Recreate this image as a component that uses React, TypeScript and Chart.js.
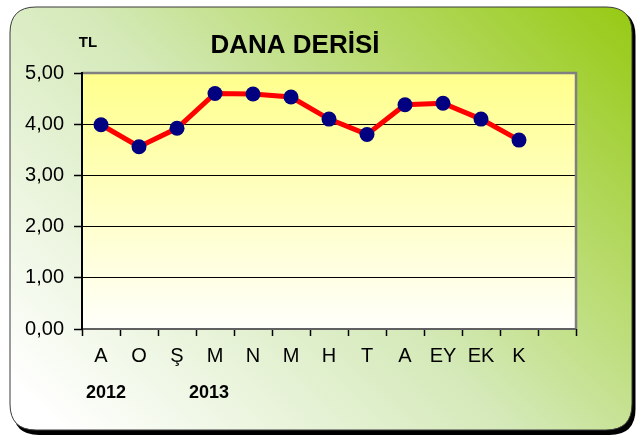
import { useEffect, useRef } from 'react';
import { Chart, registerables } from 'chart.js';

Chart.register(...registerables);

const categories: string[] = ['A', 'O', 'Ş', 'M', 'N', 'M', 'H', 'T', 'A', 'EY', 'EK', 'K', ''];
const prices: (number | null)[] = [3.99, 3.56, 3.92, 4.6, 4.59, 4.53, 4.1, 3.8, 4.38, 4.41, 4.1, 3.69, null];
const yearTexts: string[] = ['2012', '2013'];
const yearIndexes: number[] = [0, 3];
const titleText = 'DANA DERİSİ';
const unitText = 'TL';
const yMin = 0;
const yMax = 5;
const yStep = 1;

const FONT = "'Liberation Sans', Arial, sans-serif";

function roundRect(ctx: CanvasRenderingContext2D, x: number, y: number, w: number, h: number, r: number) {
  ctx.beginPath();
  ctx.moveTo(x + r, y);
  ctx.lineTo(x + w - r, y);
  ctx.quadraticCurveTo(x + w, y, x + w, y + r);
  ctx.lineTo(x + w, y + h - r);
  ctx.quadraticCurveTo(x + w, y + h, x + w - r, y + h);
  ctx.lineTo(x + r, y + h);
  ctx.quadraticCurveTo(x, y + h, x, y + h - r);
  ctx.lineTo(x, y + r);
  ctx.quadraticCurveTo(x, y, x + r, y);
  ctx.closePath();
}

const decorPlugin = {
  id: 'decor',
  beforeDraw(chart: any) {
    const ctx: CanvasRenderingContext2D = chart.ctx;
    const W = chart.width;
    const H = chart.height;
    ctx.save();
    ctx.fillStyle = '#ffffff';
    ctx.fillRect(0, 0, W, H);
    ctx.fillStyle = '#000000';
    roundRect(ctx, 13, 10, W - 13 - 0.5, H - 10 - 1, 26);
    ctx.fill();
    const bx = 10, by = 7, bw = W - 14, bh = H - 13;
    const g = ctx.createLinearGradient(bx + bw * 0.15, by + bh * 1.1, bx + bw * 0.95, by - bh * 0.1);
    g.addColorStop(0, '#ffffff');
    g.addColorStop(0.45, '#d4e9b8');
    g.addColorStop(1, '#95c90f');
    ctx.fillStyle = g;
    roundRect(ctx, bx, by, bw, bh, 26);
    ctx.fill();
    ctx.strokeStyle = '#3a3a3a';
    ctx.lineWidth = 1;
    ctx.stroke();
    const a = chart.chartArea;
    const pg = ctx.createLinearGradient(0, a.top, 0, a.bottom);
    pg.addColorStop(0, '#ffff8c');
    pg.addColorStop(1, '#fffffb');
    ctx.fillStyle = pg;
    ctx.fillRect(a.left, a.top, a.right - a.left, a.bottom - a.top);
    ctx.restore();
  },
  beforeDatasetsDraw(chart: any) {
    const ctx: CanvasRenderingContext2D = chart.ctx;
    const a = chart.chartArea;
    ctx.save();
    ctx.strokeStyle = '#808080';
    ctx.lineWidth = 2.5;
    ctx.beginPath();
    ctx.moveTo(a.left, a.top);
    ctx.lineTo(a.right, a.top);
    ctx.lineTo(a.right, a.bottom);
    ctx.stroke();
    ctx.strokeStyle = '#606060';
    ctx.lineWidth = 2;
    ctx.beginPath();
    ctx.moveTo(a.left, a.bottom);
    ctx.lineTo(a.right, a.bottom);
    ctx.stroke();
    ctx.strokeStyle = '#000000';
    ctx.lineWidth = 2;
    ctx.beginPath();
    ctx.moveTo(a.left, a.top - 1);
    ctx.lineTo(a.left, a.bottom + 1);
    ctx.stroke();
    ctx.restore();
  },
  afterDraw(chart: any) {
    const ctx: CanvasRenderingContext2D = chart.ctx;
    const xs = chart.scales.x;
    ctx.save();
    ctx.fillStyle = '#000000';
    ctx.textAlign = 'center';
    ctx.textBaseline = 'alphabetic';
    ctx.font = `bold 26px ${FONT}`;
    ctx.fillText(titleText, 295, 53);
    ctx.font = `bold 15px ${FONT}`;
    ctx.fillText(unitText, 88, 47);
    ctx.font = `bold 18px ${FONT}`;
    const offs = [5, -6];
    yearTexts.forEach((t, i) => {
      const x = xs.getPixelForValue(yearIndexes[i]) + offs[i];
      ctx.fillText(t, x, 398);
    });
    ctx.restore();
  },
};

export default function App() {
  const ref = useRef<HTMLCanvasElement | null>(null);
  useEffect(() => {
    document.body.style.margin = '0';
    if (!ref.current) return;
    const chart = new Chart(ref.current, {
      type: 'line',
      data: {
        labels: categories,
        datasets: [
          {
            data: prices,
            borderColor: '#ff0000',
            borderWidth: 5,
            pointRadius: 7.5,
            pointHoverRadius: 7.5,
            pointBackgroundColor: '#000080',
            pointBorderColor: '#000080',
            pointBorderWidth: 0,
            tension: 0,
          },
        ],
      },
      options: {
        responsive: false,
        animation: false,
        layout: { padding: { left: 0, right: 60, top: 73, bottom: 0 } },
        plugins: { legend: { display: false }, tooltip: { enabled: false }, title: { display: false } },
        scales: {
          x: {
            type: 'category',
            offset: true,
            border: { display: false },
            grid: {
              offset: true,
              drawOnChartArea: false,
              drawTicks: true,
              tickLength: 7,
              tickColor: '#000000',
              tickWidth: 1.5,
            },
            ticks: {
              color: '#000000',
              font: { family: FONT, size: 20 },
              padding: 8,
              maxRotation: 0,
              autoSkip: false,
            },
            afterFit: (axis: any) => {
              axis.height = 107;
            },
          },
          y: {
            min: yMin,
            max: yMax,
            border: { display: false },
            grid: {
              drawTicks: true,
              tickLength: 8,
              tickColor: '#000000',
              tickWidth: 1.5,
              color: (c: any) =>
                c.tick && (c.tick.value === yMin || c.tick.value === yMax) ? 'rgba(0,0,0,0)' : '#000000',
              lineWidth: 1,
              borderDash: [2, 1],
            },
            ticks: {
              stepSize: yStep,
              color: '#000000',
              font: { family: FONT, size: 20 },
              padding: 10,
              callback: (v: any) => Number(v).toFixed(2).replace('.', ','),
            },
            afterFit: (axis: any) => {
              axis.width = 82;
            },
          },
        },
      },
      plugins: [decorPlugin],
    });
    return () => chart.destroy();
  }, []);
  return (
    <div style={{ width: 636, height: 436 }}>
      <canvas ref={ref} width={636} height={436} style={{ display: 'block' }} />
    </div>
  );
}
